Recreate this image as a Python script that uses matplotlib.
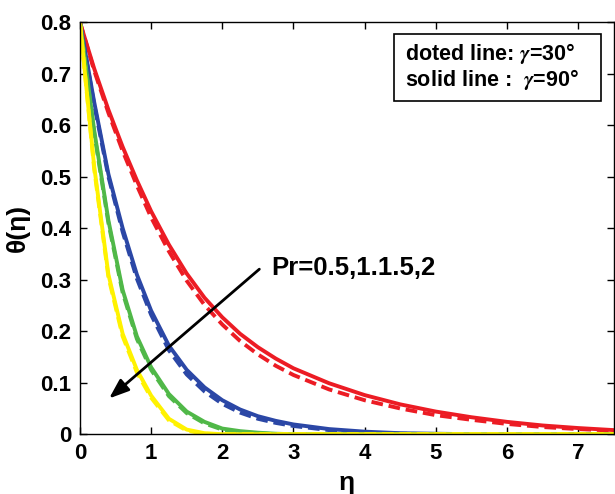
import numpy as np
import matplotlib.pyplot as plt
from matplotlib.patches import Rectangle

plt.rcParams['font.family'] = ['Liberation Sans', 'DejaVu Sans']
plt.rcParams['font.weight'] = 'bold'
plt.rcParams['mathtext.fontset'] = 'stix'

# eta grid
eta = [0, 0.2, 0.4, 0.6, 0.8, 1.0, 1.25, 1.5, 1.75, 2.0, 2.25, 2.5, 2.75, 3.0, 3.5, 4.0, 4.5, 5.0, 5.5, 6.0, 6.5, 7.0, 7.5]

# solid line: gamma = 90
red_s = [0.80, 0.71, 0.63, 0.558, 0.493, 0.433, 0.368, 0.312, 0.265, 0.227, 0.195, 0.169, 0.147, 0.128, 0.099, 0.076, 0.058, 0.044, 0.033, 0.024, 0.017, 0.012, 0.008]
blue_s = [0.80, 0.645, 0.505, 0.40, 0.31, 0.24, 0.172, 0.125, 0.091, 0.066, 0.048, 0.035, 0.026, 0.019, 0.01, 0.005, 0.002, 0.001, 0, 0, 0, 0, 0]
green_s = [0.80, 0.59, 0.415, 0.28, 0.19, 0.13, 0.078, 0.044, 0.024, 0.011, 0.006, 0.003, 0.001, 0, 0, 0, 0, 0, 0, 0, 0, 0, 0]
yellow_s = [0.80, 0.52, 0.31, 0.195, 0.125, 0.075, 0.03, 0.009, 0.002, 0, 0, 0, 0, 0, 0, 0, 0, 0, 0, 0, 0, 0, 0]

# doted line: gamma = 30
red_d = [0.80, 0.706, 0.624, 0.55, 0.483, 0.421, 0.355, 0.298, 0.251, 0.213, 0.181, 0.155, 0.133, 0.115, 0.087, 0.066, 0.05, 0.037, 0.028, 0.02, 0.014, 0.01, 0.007]
blue_d = [0.80, 0.64, 0.50, 0.393, 0.302, 0.232, 0.163, 0.116, 0.083, 0.059, 0.042, 0.03, 0.022, 0.016, 0.008, 0.003, 0.001, 0, 0, 0, 0, 0, 0]
green_d = [0.80, 0.585, 0.41, 0.275, 0.185, 0.125, 0.074, 0.041, 0.021, 0.009, 0.004, 0.002, 0, 0, 0, 0, 0, 0, 0, 0, 0, 0, 0]
yellow_d = [0.80, 0.515, 0.305, 0.19, 0.12, 0.071, 0.027, 0.007, 0.001, 0, 0, 0, 0, 0, 0, 0, 0, 0, 0, 0, 0, 0, 0]

red = '#ec1c24'
blue = '#2b47a6'
green = '#50b848'
yellow = '#fff200'

fig = plt.figure(figsize=(6.15, 4.94), dpi=100)
ax = fig.add_axes([0.130, 0.121, 0.868, 0.834])

lw = 2.8
dash = (0, (3, 1.5))
for ys, yd, c in [(red_s, red_d, red), (blue_s, blue_d, blue), (green_s, green_d, green), (yellow_s, yellow_d, yellow)]:
    ax.plot(eta, yd, color=c, lw=lw, linestyle=dash)
    ax.plot(eta, ys, color=c, lw=lw)

ax.set_xlim(0, 7.5)
ax.set_ylim(0, 0.8)
ax.set_xticks(range(0, 8))
ax.set_yticks([0, 0.1, 0.2, 0.3, 0.4, 0.5, 0.6, 0.7, 0.8])
ax.set_yticklabels(['0', '0.1', '0.2', '0.3', '0.4', '0.5', '0.6', '0.7', '0.8'])
ax.tick_params(direction='in', length=5, width=1, top=True, right=True, labelsize=16, pad=6)
for s in ax.spines.values():
    s.set_linewidth(1)

ax.set_xlabel('η', fontsize=19, fontweight='bold', labelpad=5)
ax.set_ylabel('θ(η)', fontsize=19, fontweight='bold', labelpad=8)

# arrow
ax.annotate('', xy=(0.38, 0.066), xytext=(2.55, 0.324),
            arrowprops=dict(arrowstyle='-|>,head_length=1.2,head_width=0.45', color='black', lw=2))
ax.text(2.69, 0.322, 'Pr=0.5,1.1.5,2', fontsize=18.5, fontweight='bold', va='center', ha='left')

# legend box
ax.add_patch(Rectangle((0.588, 0.808), 0.389, 0.163, transform=ax.transAxes,
                       fill=True, fc='white', ec='black', lw=1.2, zorder=5))
ax.text(0.608, 0.925, 'doted line: $\\gamma$=30°', transform=ax.transAxes, fontsize=15.5,
        fontweight='bold', va='center', zorder=6)
ax.text(0.608, 0.860, 'solid line :  $\\gamma$=90°', transform=ax.transAxes, fontsize=15.5,
        fontweight='bold', va='center', zorder=6)

fig.savefig('out.png', dpi=100)
